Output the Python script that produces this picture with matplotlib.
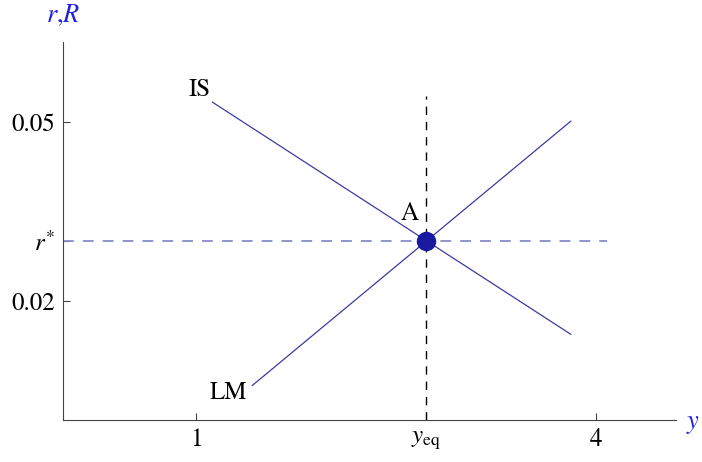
import matplotlib
matplotlib.use('Agg')
import matplotlib.pyplot as plt

plt.rcParams['font.family'] = ['STIXGeneral', 'Liberation Serif', 'DejaVu Serif']
plt.rcParams['mathtext.fontset'] = 'stix'

# IS-LM data
y_eq = 2.72
r_star = 0.03
is_x = [1.12, 3.81]
is_y = [0.0534, 0.0144]
lm_x = [1.42, 3.81]
lm_y = [0.0058, 0.0502]
xticks = [1, y_eq, 4]
xticklabels = ['1', r'$y_{\mathrm{eq}}$', '4']
yticks = [0.02, r_star, 0.05]
yticklabels = ['0.02', r'$r^{*}$', '0.05']

fig = plt.figure(figsize=(7.02, 4.62), dpi=100)
ax = fig.add_axes([0.09, 0.091, 0.873, 0.818])

ax.plot(is_x, is_y, color='#3b3ba0', lw=0.9)
ax.plot(lm_x, lm_y, color='#3b3ba0', lw=0.9)
ax.plot([0, 4.08], [r_star, r_star], color='#8a8ac8', lw=1.3, ls=(0, (6, 5)))
ax.plot([y_eq, y_eq], [0, 0.0545], color='black', lw=1.0, ls=(0, (6, 5)))
ax.plot([y_eq], [r_star], 'o', color='#1a1aa0', ms=13, zorder=5)

ax.text(1.11, 0.0554, 'IS', fontsize=18, ha='right', va='center')
ax.text(1.38, 0.0046, 'LM', fontsize=18, ha='right', va='center')
ax.text(y_eq - 0.12, 0.0346, 'A', fontsize=18, ha='center', va='center')

ax.set_xlim(0, 4.6)
ax.set_ylim(0, 0.0635)
ax.set_xticks(xticks)
ax.set_xticklabels(xticklabels, fontsize=18)
ax.set_yticks(yticks)
ax.set_yticklabels(yticklabels, fontsize=18)
ax.tick_params(direction='in', length=5, color='#444444', pad=6)

for s in ['top', 'right']:
    ax.spines[s].set_visible(False)
for s in ['left', 'bottom']:
    ax.spines[s].set_color('#444444')

fig.text(0.09, 0.965, r'$r$,$R$', color='#2020dd', fontsize=19, ha='center', va='center')
fig.text(0.987, 0.082, r'$y$', color='#2020dd', fontsize=19, ha='center', va='center')

plt.savefig('out.png', dpi=100)
